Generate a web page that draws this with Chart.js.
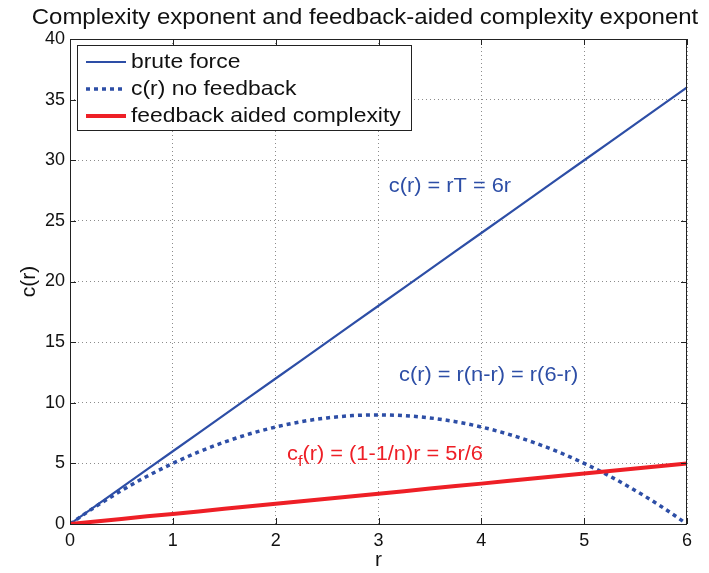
<!DOCTYPE html>
<html>
<head>
<meta charset="utf-8">
<script src="https://cdn.jsdelivr.net/npm/chart.js@4"></script>
<style>
  html, body { margin: 0; padding: 0; background: #fff; }
  #wrap { width: 709px; height: 573px; }
</style>
</head>
<body>
<div id="wrap"><canvas id="complexityChart" width="709" height="573"></canvas></div>
<script>
// values
const rValues = [0, 0.25, 0.5, 0.75, 1, 1.25, 1.5, 1.75, 2, 2.25, 2.5, 2.75, 3,
                 3.25, 3.5, 3.75, 4, 4.25, 4.5, 4.75, 5, 5.25, 5.5, 5.75, 6];
const bruteForce = [0, 1.5, 3, 4.5, 6, 7.5, 9, 10.5, 12, 13.5, 15, 16.5, 18,
                    19.5, 21, 22.5, 24, 25.5, 27, 28.5, 30, 31.5, 33, 34.5, 36];
const noFeedback = [0, 1.44, 2.75, 3.94, 5, 5.94, 6.75, 7.44, 8, 8.44, 8.75, 8.94, 9,
                    8.94, 8.75, 8.44, 8, 7.44, 6.75, 5.94, 5, 3.94, 2.75, 1.44, 0];
const feedbackAided = [0, 0.21, 0.42, 0.63, 0.83, 1.04, 1.25, 1.46, 1.67, 1.88, 2.08, 2.29, 2.5,
                       2.71, 2.92, 3.13, 3.33, 3.54, 3.75, 3.96, 4.17, 4.38, 4.58, 4.79, 5];
const xTicks = [0, 1, 2, 3, 4, 5, 6];
const yTicks = [0, 5, 10, 15, 20, 25, 30, 35, 40];

const seriesNames = ['brute force', 'c(r) no feedback', 'feedback aided complexity'];
const titleText = 'Complexity exponent and feedback-aided complexity exponent';

const BLUE = '#2d4ea6';
const RED = '#ee1f26';
const FONT = '"Liberation Sans", Arial, Helvetica, sans-serif';
const STRETCH = 1.09;

function toPoints(ys) {
    return rValues.map(function(r, i) { return { x: r, y: ys[i] }; });
}

// draws text a bit wider than the font, like the original figure
function stretchedText(ctx, text, x, y, size, color, align) {
    ctx.save();
    ctx.font = size + 'px ' + FONT;
    ctx.fillStyle = color;
    ctx.textBaseline = 'middle';
    const w = ctx.measureText(text).width * STRETCH;
    let left = x;
    if (align === 'center') left = x - w / 2;
    ctx.translate(left, y);
    ctx.scale(STRETCH, 1);
    ctx.textAlign = 'left';
    ctx.fillText(text, 0, 0);
    ctx.restore();
    return w;
}

// title, axes box, inward ticks, legend and equation labels
const figurePlugin = {
    id: 'figureDecor',
    afterDatasetsDraw(chart) {
        const ctx = chart.ctx;
        const area = chart.chartArea;
        const xs = chart.scales.x;
        const ys = chart.scales.y;

        // title
        stretchedText(ctx, titleText, 365, 18, 22, '#111', 'center');

        // axes box
        ctx.save();
        ctx.strokeStyle = '#222';
        ctx.lineWidth = 1;
        ctx.strokeRect(area.left + 0.5, area.top + 0.5, area.right - area.left - 1, area.bottom - area.top);

        // inward tick marks on all four sides
        const tl = 6;
        ctx.beginPath();
        xTicks.forEach(function(v) {
            const px = Math.round(xs.getPixelForValue(v)) + 0.5;
            ctx.moveTo(px, area.bottom); ctx.lineTo(px, area.bottom - tl);
            ctx.moveTo(px, area.top); ctx.lineTo(px, area.top + tl);
        });
        yTicks.forEach(function(v) {
            const py = Math.round(ys.getPixelForValue(v)) + 0.5;
            ctx.moveTo(area.left, py); ctx.lineTo(area.left + tl, py);
            ctx.moveTo(area.right, py); ctx.lineTo(area.right - tl, py);
        });
        ctx.stroke();
        ctx.restore();

        // legend
        const lx = area.left + 7, ly = area.top + 6, lw = 334, lh = 85;
        ctx.save();
        ctx.fillStyle = '#fff';
        ctx.fillRect(lx, ly, lw, lh);
        ctx.strokeStyle = '#222';
        ctx.lineWidth = 1;
        ctx.strokeRect(lx + 0.5, ly + 0.5, lw, lh);
        const samples = [
            { color: BLUE, width: 2.2, dash: [] },
            { color: BLUE, width: 3.5, dash: [4, 4] },
            { color: RED, width: 4, dash: [] }
        ];
        seriesNames.forEach(function(name, i) {
            const rowY = ly + 17 + i * 27;
            ctx.beginPath();
            ctx.strokeStyle = samples[i].color;
            ctx.lineWidth = samples[i].width;
            ctx.setLineDash(samples[i].dash);
            ctx.moveTo(lx + 9, rowY);
            ctx.lineTo(lx + 49, rowY);
            ctx.stroke();
            ctx.setLineDash([]);
            stretchedText(ctx, name, lx + 54, rowY, 21, '#111', 'left');
        });
        ctx.restore();

        // equation labels placed in data coordinates
        stretchedText(ctx, 'c(r) = rT = 6r', xs.getPixelForValue(3.1), ys.getPixelForValue(27.8), 20, BLUE, 'left');
        stretchedText(ctx, 'c(r) = r(n-r) = r(6-r)', xs.getPixelForValue(3.2), ys.getPixelForValue(12.25), 20, BLUE, 'left');
        let cx = xs.getPixelForValue(2.11);
        const cy = ys.getPixelForValue(5.7);
        cx += stretchedText(ctx, 'c', cx, cy, 20, RED, 'left');
        cx += stretchedText(ctx, 'f', cx, cy + 7, 15, RED, 'left');
        stretchedText(ctx, '(r) = (1-1/n)r = 5r/6', cx, cy, 20, RED, 'left');
    }
};

document.addEventListener('DOMContentLoaded', function() {
    const ctx = document.getElementById('complexityChart').getContext('2d');
    new Chart(ctx, {
        type: 'line',
        data: {
            datasets: [{
                label: seriesNames[0],
                data: toPoints(bruteForce),
                borderColor: BLUE,
                borderWidth: 2.2,
                pointRadius: 0,
                order: 3
            }, {
                label: seriesNames[1],
                data: toPoints(noFeedback),
                borderColor: BLUE,
                borderWidth: 3.5,
                borderDash: [4, 4],
                borderCapStyle: 'butt',
                pointRadius: 0,
                cubicInterpolationMode: 'monotone',
                order: 2
            }, {
                label: seriesNames[2],
                data: toPoints(feedbackAided),
                borderColor: RED,
                borderWidth: 4,
                pointRadius: 0,
                order: 1
            }]
        },
        plugins: [figurePlugin],
        options: {
            responsive: false,
            animation: false,
            layout: {
                padding: { top: 39, right: 22, bottom: 0, left: 0 }
            },
            plugins: {
                legend: { display: false },
                title: { display: false },
                tooltip: { enabled: false }
            },
            scales: {
                x: {
                    type: 'linear',
                    min: 0,
                    max: 6,
                    afterFit: function(scale) { scale.height = 49; },
                    afterBuildTicks: function(scale) {
                        scale.ticks = xTicks.map(function(v) { return { value: v }; });
                    },
                    ticks: {
                        color: '#111',
                        padding: 6,
                        font: { family: FONT, size: 18 },
                        maxRotation: 0
                    },
                    grid: {
                        color: 'rgba(0,0,0,0.45)',
                        lineWidth: 1,
                        drawTicks: false
                    },
                    border: { display: false, dash: [1, 3] },
                    title: {
                        display: true,
                        text: 'r',
                        color: '#111',
                        font: { family: FONT, size: 21 },
                        padding: { top: 0, bottom: 0 }
                    }
                },
                y: {
                    type: 'linear',
                    min: 0,
                    max: 40,
                    afterFit: function(scale) { scale.width = 70; },
                    afterBuildTicks: function(scale) {
                        scale.ticks = yTicks.map(function(v) { return { value: v }; });
                    },
                    ticks: {
                        color: '#111',
                        padding: 5,
                        font: { family: FONT, size: 18 }
                    },
                    grid: {
                        color: 'rgba(0,0,0,0.45)',
                        lineWidth: 1,
                        drawTicks: false
                    },
                    border: { display: false, dash: [1, 3] },
                    title: {
                        display: true,
                        text: 'c(r)',
                        color: '#111',
                        font: { family: FONT, size: 21 },
                        padding: { top: 17, bottom: 0 }
                    }
                }
            }
        }
    });
});
</script>
</body>
</html>
